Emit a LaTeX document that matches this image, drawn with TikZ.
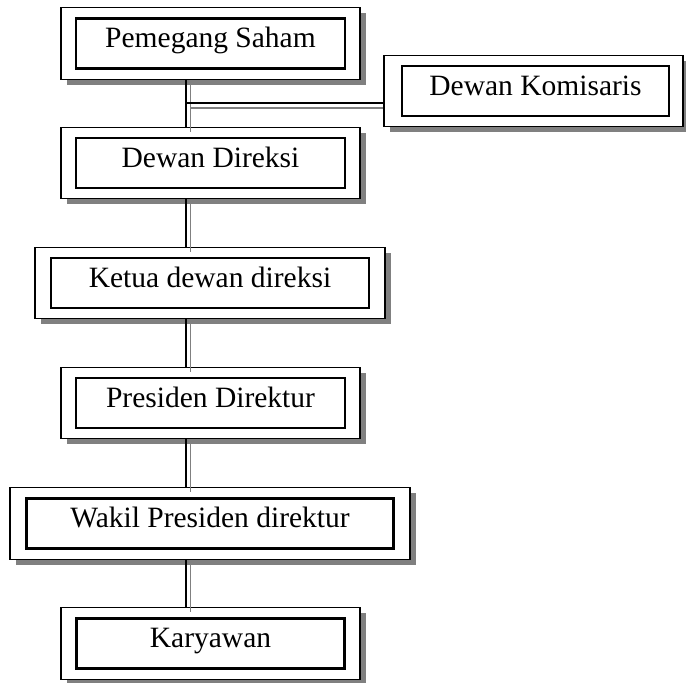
\documentclass[tikz,border=0pt]{standalone}
\usepackage{fontspec}
\setmainfont{Liberation Serif}
\usetikzlibrary{shadows,calc}
\definecolor{shadegray}{HTML}{808080}
\begin{document}
\begin{tikzpicture}[x=1pt,y=-1pt,
  outerbox/.style={draw, line width=1.3pt, fill=white, inner sep=0pt,
    minimum height=71.5pt,
    drop shadow={shadow xshift=6pt, shadow yshift=-5.5pt, fill=shadegray, opacity=1}},
  innerbox/.style={draw, line width=2.2pt, inner sep=0pt, minimum height=50pt,
    text height=20pt, text depth=12pt,
    font=\fontsize{29.5}{34}\selectfont},
  conn/.style={line width=1.5pt, draw=black},
  connshade/.style={line width=1.5pt, draw=shadegray}]

\useasboundingbox (0,0) rectangle (686,683);

% boxes: a thin outer frame with a shadow, and a heavy inner frame holding the text
\node[outerbox, minimum width=299pt] (ps) at (210.5,43.5) {};
\node[innerbox, minimum width=269pt] (ps-in) at (ps.center) {Pemegang Saham};

\node[outerbox, minimum width=299pt] (dk) at (533.5,91) {};
\node[innerbox, minimum width=267pt] (dk-in) at ([xshift=2pt]dk.center) {Dewan Komisaris};

\node[outerbox, minimum width=299pt] (dd) at (210.5,163) {};
\node[innerbox, minimum width=269pt] (dd-in) at (dd.center) {Dewan Direksi};

\node[outerbox, minimum width=350pt] (kdd) at (210,283) {};
\node[innerbox, minimum width=318pt] (kdd-in) at (kdd.center) {Ketua dewan direksi};

\node[outerbox, minimum width=299pt] (pd) at (210.5,403) {};
\node[innerbox, minimum width=269pt] (pd-in) at (pd.center) {Presiden Direktur};

\node[outerbox, minimum width=400pt] (wpd) at (210,523.5) {};
\node[innerbox, minimum width=367pt] (wpd-in) at (wpd.center) {Wakil Presiden direktur};

\node[outerbox, minimum width=299pt] (kar) at (210.5,643.5) {};
\node[innerbox, minimum width=268pt] (kar-in) at (kar.center) {Karyawan};

% the spine of the chart and the branch to the board of commissioners
\coordinate (spine) at (186,0);
\coordinate (branch) at (186,103);

% grey shade of the double lines
\begin{scope}[transform canvas={xshift=4.5pt, yshift=-5pt}]
  \draw[connshade] (ps.south -| spine) -- (dd.north -| spine);
  \draw[connshade] (dd.south -| spine) -- (kdd.north -| spine);
  \draw[connshade] (kdd.south -| spine) -- (pd.north -| spine);
  \draw[connshade] (pd.south -| spine) -- (wpd.north -| spine);
  \draw[connshade] (wpd.south -| spine) -- (kar.north -| spine);
\end{scope}
\draw[connshade] ($(branch)+(4.5,5)$) -- ($(branch -| dk.west)+(0,5)$);

% black lines
\draw[conn] (ps.south -| spine) -- (dd.north -| spine);
\draw[conn] (branch) -- (branch -| dk.west);
\draw[conn] (dd.south -| spine) -- (kdd.north -| spine);
\draw[conn] (kdd.south -| spine) -- (pd.north -| spine);
\draw[conn] (pd.south -| spine) -- (wpd.north -| spine);
\draw[conn] (wpd.south -| spine) -- (kar.north -| spine);

\end{tikzpicture}
\end{document}
